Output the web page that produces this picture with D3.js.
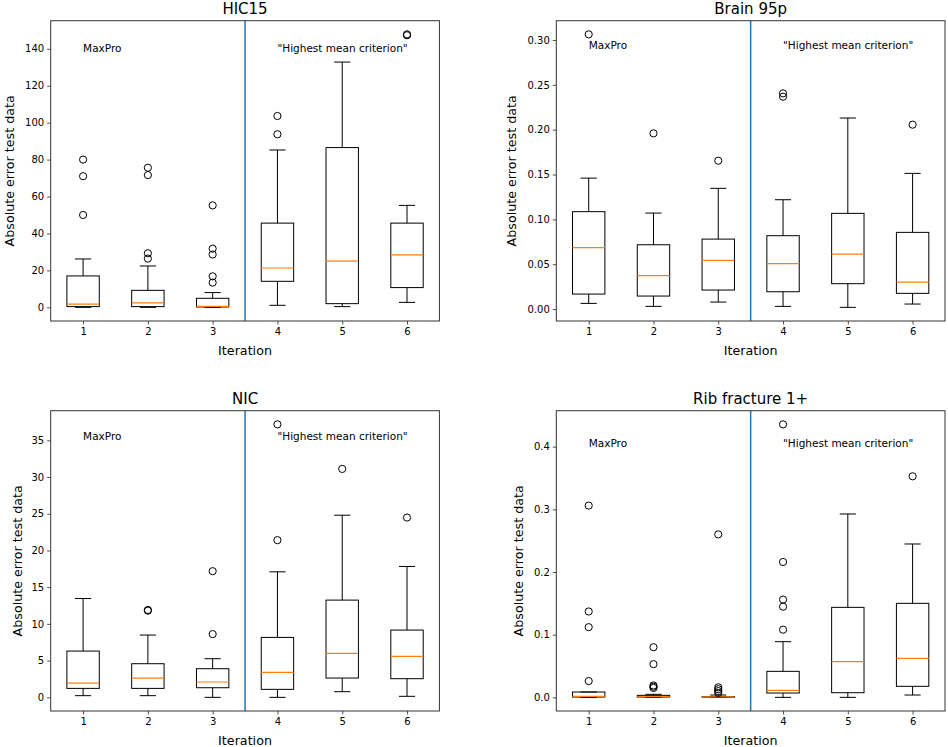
<!DOCTYPE html>
<html>
<head>
<meta charset="utf-8">
<script src="https://cdn.jsdelivr.net/npm/d3@7"></script>
<style>
  body { margin: 0; background: #fff; }
  text { font-family: "DejaVu Sans", sans-serif; fill: #000; }
</style>
</head>
<body>
<svg id="chart" width="948" height="747"></svg>
<script>
var iterations = [1, 2, 3, 4, 5, 6];

// box stats per iteration: [whisker low, Q1, median, Q3, whisker high]
var hic15Stats = [
  [0, 0.4, 1.8, 17, 26.2],
  [0, 0.4, 2.4, 9.2, 22.4],
  [0, 0.2, 0.5, 4.9, 8],
  [1.1, 14.1, 21.3, 45.6, 85.2],
  [0.4, 2, 25, 86.5, 132.8],
  [2.7, 10.7, 28.4, 45.6, 55.2]
];
var hic15Outliers = [
  [80, 71, 50],
  [75.6, 71.6, 29.3, 26.4],
  [55.2, 31.8, 28.6, 16.8, 13.4],
  [103.6, 93.7],
  [],
  [147.8, 147.3]
];

var brainStats = [
  [0.0063, 0.0167, 0.0684, 0.1086, 0.146],
  [0.003, 0.0145, 0.0372, 0.0717, 0.107],
  [0.0078, 0.0212, 0.0543, 0.078, 0.1346],
  [0.003, 0.0193, 0.0506, 0.0818, 0.1219],
  [0.0019, 0.0283, 0.0613, 0.1067, 0.213],
  [0.0056, 0.0175, 0.0301, 0.0855, 0.1513]
];
var brainOutliers = [
  [0.3063],
  [0.1959],
  [0.1654],
  [0.2405, 0.2368],
  [],
  [0.2056]
];

var nicStats = [
  [0.23, 1.22, 1.95, 6.3, 13.46],
  [0.23, 1.22, 2.63, 4.58, 8.48],
  [0, 1.31, 2.09, 3.9, 5.26],
  [0, 1.09, 3.4, 8.16, 17.09],
  [0.77, 2.63, 5.98, 13.24, 24.8],
  [0.14, 2.54, 5.58, 9.16, 17.82]
];
var nicOutliers = [
  [],
  [11.9, 11.8],
  [17.18, 8.61],
  [37.17, 21.4],
  [31.1],
  [24.48]
];

var ribStats = [
  [0, 0.0005, 0.0016, 0.0085, 0.0085],
  [0, 0.0005, 0.001, 0.0032, 0.0048],
  [0, 0.0002, 0.0006, 0.0012, 0.0037],
  [0, 0.0069, 0.0112, 0.0415, 0.0888],
  [0, 0.0074, 0.0569, 0.1436, 0.2926],
  [0.0037, 0.0176, 0.0622, 0.15, 0.2447]
];
var ribOutliers = [
  [0.306, 0.137, 0.112, 0.026],
  [0.08, 0.053, 0.019, 0.017, 0.015],
  [0.26, 0.016, 0.013, 0.01, 0.007],
  [0.4356, 0.216, 0.156, 0.1447, 0.108],
  [],
  [0.3527]
];

var panels = [
  { title: "HIC15", stats: hic15Stats, outliers: hic15Outliers, ticks: d3.range(0, 141, 20), fmt: d3.format("d"), labelY: 138,
    x0: 50.7, y0: 20.7, ylab: 14 },
  { title: "Brain 95p", stats: brainStats, outliers: brainOutliers, ticks: d3.range(0, 0.301, 0.05), fmt: d3.format(".2f"), labelY: 0.29,
    x0: 556.3, y0: 20.7, ylab: 516 },
  { title: "NIC", stats: nicStats, outliers: nicOutliers, ticks: d3.range(0, 36, 5), fmt: d3.format("d"), labelY: 35,
    x0: 50.7, y0: 410.7, ylab: 21.5 },
  { title: "Rib fracture 1+", stats: ribStats, outliers: ribOutliers, ticks: d3.range(0, 0.41, 0.1), fmt: d3.format(".1f"), labelY: 0.4,
    x0: 556.3, y0: 410.7, ylab: 522.5 }
];

var pw = 388.7, ph = 300.3;
var svg = d3.select("#chart");

panels.forEach(function(p) {
  var all = [];
  p.stats.forEach(function(s) { all = all.concat(s); });
  p.outliers.forEach(function(o) { all = all.concat(o); });
  var lo = d3.min(all), hi = d3.max(all), pad = (hi - lo) * 0.05;

  var x = d3.scaleLinear().domain([0.5, 6.5]).range([0, pw]);
  var y = d3.scaleLinear().domain([lo - pad, hi + pad]).range([ph, 0]);

  var g = svg.append("g").attr("transform", "translate(" + p.x0 + "," + p.y0 + ")");

  // separation line between design strategies
  g.append("line")
    .attr("x1", x(3.5)).attr("x2", x(3.5))
    .attr("y1", 0).attr("y2", ph)
    .attr("stroke", "#1f77b4").attr("stroke-width", 1.5);

  var box = g.selectAll(".box").data(p.stats).enter().append("g").attr("class", "box");
  var bw = 0.25, cw = 0.125;

  box.append("line")
    .attr("x1", function(d, i) { return x(iterations[i]); })
    .attr("x2", function(d, i) { return x(iterations[i]); })
    .attr("y1", function(d) { return y(d[3]); })
    .attr("y2", function(d) { return y(d[4]); })
    .attr("stroke", "#000").attr("stroke-width", 1);
  box.append("line")
    .attr("x1", function(d, i) { return x(iterations[i]); })
    .attr("x2", function(d, i) { return x(iterations[i]); })
    .attr("y1", function(d) { return y(d[1]); })
    .attr("y2", function(d) { return y(d[0]); })
    .attr("stroke", "#000").attr("stroke-width", 1);
  box.append("line")
    .attr("x1", function(d, i) { return x(iterations[i] - cw); })
    .attr("x2", function(d, i) { return x(iterations[i] + cw); })
    .attr("y1", function(d) { return y(d[4]); })
    .attr("y2", function(d) { return y(d[4]); })
    .attr("stroke", "#000").attr("stroke-width", 1);
  box.append("line")
    .attr("x1", function(d, i) { return x(iterations[i] - cw); })
    .attr("x2", function(d, i) { return x(iterations[i] + cw); })
    .attr("y1", function(d) { return y(d[0]); })
    .attr("y2", function(d) { return y(d[0]); })
    .attr("stroke", "#000").attr("stroke-width", 1);
  box.append("rect")
    .attr("x", function(d, i) { return x(iterations[i] - bw); })
    .attr("width", x(1 + bw) - x(1 - bw))
    .attr("y", function(d) { return y(d[3]); })
    .attr("height", function(d) { return y(d[1]) - y(d[3]); })
    .attr("fill", "none").attr("stroke", "#000").attr("stroke-width", 1);
  box.append("line")
    .attr("x1", function(d, i) { return x(iterations[i] - bw); })
    .attr("x2", function(d, i) { return x(iterations[i] + bw); })
    .attr("y1", function(d) { return y(d[2]); })
    .attr("y2", function(d) { return y(d[2]); })
    .attr("stroke", "#ff7f0e").attr("stroke-width", 1.2);

  p.outliers.forEach(function(o, i) {
    g.selectAll(null).data(o).enter().append("circle")
      .attr("cx", x(iterations[i]))
      .attr("cy", function(d) { return y(d); })
      .attr("r", 3.6)
      .attr("fill", "none").attr("stroke", "#000").attr("stroke-width", 1);
  });

  // annotations
  g.append("text").attr("x", x(1)).attr("y", y(p.labelY))
    .attr("font-size", 10.5).text("MaxPro");
  g.append("text").attr("x", x(4)).attr("y", y(p.labelY))
    .attr("font-size", 10.5).text("\"Highest mean criterion\"");

  // axes
  var xa = g.append("g").attr("transform", "translate(0," + ph + ")")
    .call(d3.axisBottom(x).tickValues(iterations).tickSize(3.5).tickPadding(3).tickFormat(d3.format("d")));
  var ya = g.append("g")
    .call(d3.axisLeft(y).tickValues(p.ticks).tickSize(3.5).tickPadding(3).tickFormat(p.fmt));
  [xa, ya].forEach(function(a) {
    a.select(".domain").remove();
    a.selectAll("text").attr("font-family", "DejaVu Sans").attr("font-size", 10).attr("fill", "#222");
    a.selectAll("line").attr("stroke", "#222").attr("stroke-width", 0.8);
  });

  g.append("rect").attr("width", pw).attr("height", ph)
    .attr("fill", "none").attr("stroke", "#333").attr("stroke-width", 1);

  g.append("text").attr("x", pw / 2).attr("y", -6.5)
    .attr("text-anchor", "middle").attr("font-size", 15).text(p.title);
  g.append("text").attr("x", pw / 2).attr("y", ph + 34)
    .attr("text-anchor", "middle").attr("font-size", 12.7).text("Iteration");
  svg.append("text")
    .attr("transform", "translate(" + p.ylab + "," + (p.y0 + ph / 2) + ") rotate(-90)")
    .attr("text-anchor", "middle").attr("font-size", 12.7).text("Absolute error test data");
});
</script>
</body>
</html>
